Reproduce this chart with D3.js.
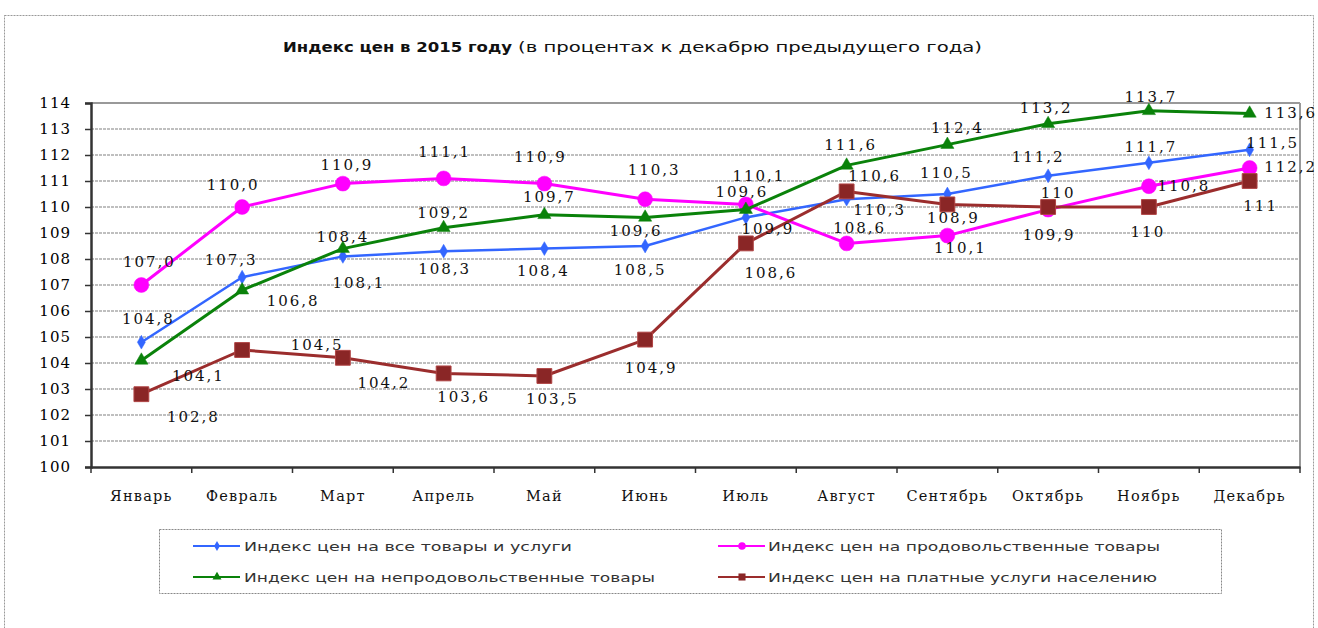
<!DOCTYPE html>
<html><head><meta charset="utf-8">
<script src="https://cdn.jsdelivr.net/npm/d3@7"></script>
<style>
html,body{margin:0;padding:0;background:#fff;}
svg{display:block;}
</style></head>
<body>
<svg id="chart" width="1318" height="628"></svg>
<script>
// ---------- DATA ----------
const months = ["Январь","Февраль","Март","Апрель","Май","Июнь","Июль","Август","Сентябрь","Октябрь","Ноябрь","Декабрь"];
const yTicks = [100,101,102,103,104,105,106,107,108,109,110,111,112,113,114];

const seriesNames = [
  "Индекс цен на все товары и услуги",
  "Индекс цен на продовольственные товары",
  "Индекс цен на непродовольственные товары",
  "Индекс цен на платные услуги населению"
];
const allGoods    = [104.8,107.3,108.1,108.3,108.4,108.5,109.6,110.3,110.5,111.2,111.7,112.2];
const food        = [107.0,110.0,110.9,111.1,110.9,110.3,110.1,108.6,108.9,109.9,110.8,111.5];
const nonFood     = [104.1,106.8,108.4,109.2,109.7,109.6,109.9,111.6,112.4,113.2,113.7,113.6];
const services    = [102.8,104.5,104.2,103.6,103.5,104.9,108.6,110.6,110.1,110.0,110.0,111.0];

const allGoodsLabels = ["104,8","107,3","108,1","108,3","108,4","108,5","109,6","110,3","110,5","111,2","111,7","111,5"];
const foodLabels     = ["107,0","110,0","110,9","111,1","110,9","110,3","110,1","108,6","110,1","109,9","110,8","112,2"];
const nonFoodLabels  = ["104,1","106,8","108,4","109,2","109,7","109,6","109,9","111,6","112,4","113,2","113,7","113,6"];
const servicesLabels = ["102,8","104,5","104,2","103,6","103,5","104,9","108,6","110,6","108,9","110","110","111"];

// ---------- LAYOUT / STYLE ----------
const labelOffsets = [
  [[7,-23],[-11,-17],[16,27],[1,18],[-1,22],[-5,24],[-4,-25],[33,11],[-1,-21],[-10,-19],[2,-16],[23,-7]],
  [[8,-23],[-9,-22],[4,-19],[1,-26],[-4,-27],[9,-29],[13,-28],[13,-15],[13,12],[1,25],[35,0],[41,-1]],
  [[57,16],[51,11],[0,-12],[0,-15],[5,-18],[-9,14],[22,19],[4,-20],[10,-17],[-2,-16],[2,-14],[41,0]],
  [[52,23],[75,-5],[41,25],[20,24],[8,23],[6,28],[25,30],[28,-15],[6,14],[10,-14],[-1,25],[11,25]]
];
const styles = [
  {color:"#3366ff", fill:"#3366ff", sym:d3.symbolDiamond, size:55, lsize:30, width:2.5},
  {color:"#ff00ff", fill:"#ff00ff", sym:d3.symbolCircle, size:175, lsize:45, width:3},
  {color:"#0a820a", fill:"#0a820a", sym:d3.symbolTriangle, size:75, lsize:35, width:3},
  {color:"#9b2d2d", fill:"#8a2626", sym:d3.symbolSquare, size:220, lsize:50, width:3}
];
const seriesData = [allGoods, food, nonFood, services];
const seriesLabels = [allGoodsLabels, foodLabels, nonFoodLabels, servicesLabels];

const svg = d3.select("#chart");
const L = 91, R = 1300, T = 103, B = 467;

// outer frame
svg.append("rect").attr("x",4.5).attr("y",15.5).attr("width",1309).attr("height",700)
  .attr("fill","none").attr("stroke","#999").attr("stroke-dasharray","2,1");

// title
svg.append("text").attr("x",283).attr("y",52)
  .attr("font-family","DejaVu Sans").attr("font-weight","bold").attr("font-size",14)
  .attr("textLength",229).attr("lengthAdjust","spacingAndGlyphs").attr("fill","#111")
  .text("Индекс цен в 2015 году");
svg.append("text").attr("x",518).attr("y",52)
  .attr("font-family","DejaVu Sans").attr("font-size",14)
  .attr("textLength",464).attr("lengthAdjust","spacingAndGlyphs").attr("fill","#111")
  .text("(в процентах к декабрю предыдущего года)");

const x = d3.scaleBand().domain(months).range([L,R]);
const y = d3.scaleLinear().domain([100,114]).range([B,T]);
const cx = m => x(m) + x.bandwidth()/2;

// gridlines
svg.append("g").selectAll("line").data(yTicks.filter(d=>d>100 && d<114)).join("line")
  .attr("x1",L).attr("x2",R).attr("y1",d=>y(d)).attr("y2",d=>y(d))
  .attr("stroke","#aaa").attr("stroke-width",1.6).attr("stroke-dasharray","3,1");
// top and right border of plot
svg.append("line").attr("x1",L).attr("x2",R).attr("y1",y(114)).attr("y2",y(114))
  .attr("stroke","#999").attr("stroke-width",2);
svg.append("line").attr("x1",R).attr("x2",R).attr("y1",T).attr("y2",B)
  .attr("stroke","#999").attr("stroke-width",2);

// y axis
const yAxis = svg.append("g").attr("transform",`translate(${L},0)`)
  .call(d3.axisLeft(y).tickValues(yTicks).tickSize(6).tickPadding(14).tickFormat(d=>d));
yAxis.select(".domain").attr("stroke","#333").attr("stroke-width",2.5);
yAxis.selectAll(".tick line").attr("stroke","#333").attr("stroke-width",1.5);
yAxis.selectAll("text").attr("font-family","DejaVu Serif").attr("font-size",15)
  .attr("letter-spacing",1).attr("fill","#000");

// x axis
const xAxis = svg.append("g").attr("transform",`translate(0,${B})`)
  .call(d3.axisBottom(x).tickSize(0).tickPadding(24));
xAxis.select(".domain").attr("stroke","#333").attr("stroke-width",2.5);
xAxis.selectAll("text").attr("font-family","DejaVu Serif").attr("font-size",14.5)
  .attr("letter-spacing",1.2).attr("fill","#111");
// band edge ticks
const edges = months.map(m=>x(m)).concat([x(months[months.length-1])+x.step()]);
svg.append("g").selectAll("line").data(edges).join("line")
  .attr("x1",d=>d).attr("x2",d=>d).attr("y1",B).attr("y2",B+6)
  .attr("stroke","#333").attr("stroke-width",1.5);

// series
const line = d3.line().x((d,i)=>cx(months[i])).y(d=>y(d));
seriesData.forEach((vals,si)=>{
  const st = styles[si];
  const g = svg.append("g");
  g.append("path").datum(vals).attr("d",line).attr("fill","none")
    .attr("stroke",st.color).attr("stroke-width",st.width).attr("stroke-linejoin","round");
  g.selectAll("path.m").data(vals).join("path").attr("class","m")
    .attr("transform",(d,i)=>`translate(${cx(months[i])},${y(d)})`)
    .attr("d",d3.symbol().type(st.sym).size(st.size))
    .attr("fill",st.fill).attr("stroke",si===3?"#b04545":st.color).attr("stroke-width",si===3?1:0.5);
});

// labels
seriesData.forEach((vals,si)=>{
  svg.append("g").selectAll("text").data(vals).join("text")
    .attr("x",(d,i)=>cx(months[i]) + labelOffsets[si][i][0])
    .attr("y",(d,i)=>y(d) + labelOffsets[si][i][1])
    .attr("text-anchor","middle").attr("dominant-baseline","central")
    .attr("font-family","DejaVu Serif").attr("font-size",15).attr("letter-spacing",2)
    .attr("fill","#111")
    .text((d,i)=>seriesLabels[si][i]);
});

// legend
svg.append("rect").attr("x",159.5).attr("y",529.5).attr("width",1062).attr("height",64)
  .attr("fill","#fff").attr("stroke","#888").attr("stroke-dasharray","2,1");
const legendPos = [[193,546,244,328],[718,546,768,392],[193,577,244,411],[718,577,768,389]];
seriesNames.forEach((name,si)=>{
  const st = styles[si];
  const [lx,ly,tx,tl] = legendPos[si];
  svg.append("line").attr("x1",lx).attr("x2",lx+47).attr("y1",ly).attr("y2",ly)
    .attr("stroke",st.color).attr("stroke-width",2);
  svg.append("path").attr("transform",`translate(${lx+24},${ly})`)
    .attr("d",d3.symbol().type(st.sym).size(st.lsize)).attr("fill",st.fill);
  svg.append("text").attr("x",tx).attr("y",ly).attr("dominant-baseline","central")
    .attr("font-family","DejaVu Sans").attr("font-size",13).attr("fill","#333")
    .attr("textLength",tl).attr("lengthAdjust","spacingAndGlyphs")
    .text(name);
});
</script>
</body></html>
